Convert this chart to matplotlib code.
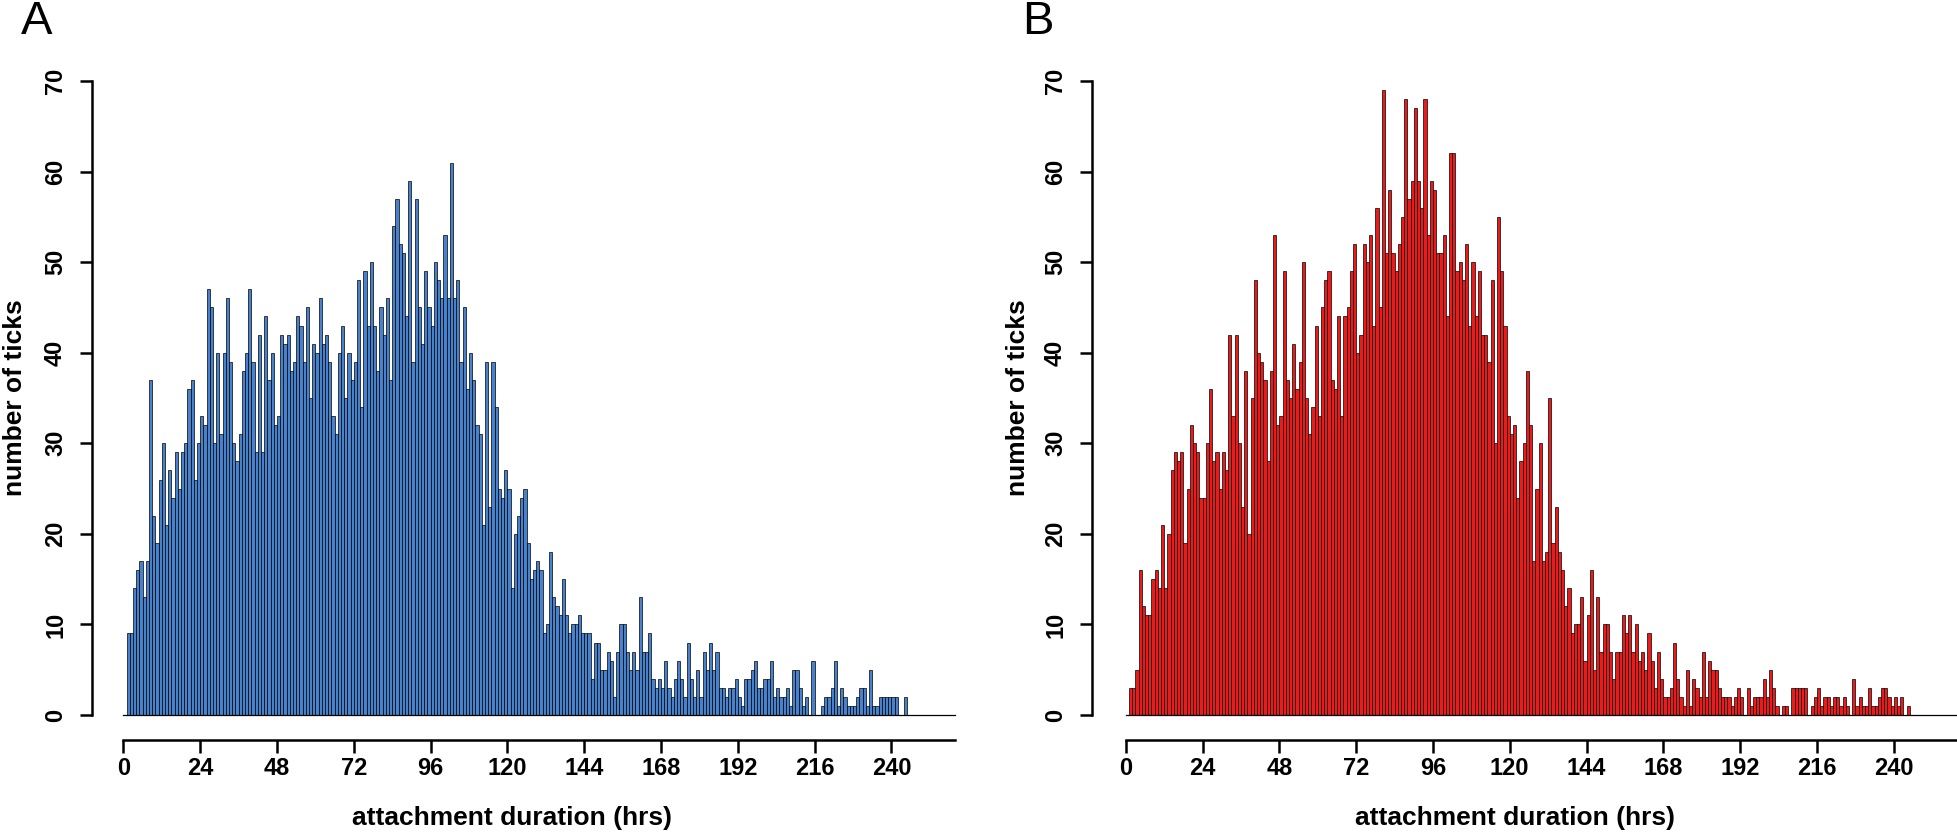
import numpy as np
import matplotlib.pyplot as plt

plt.rcParams['font.family'] = ['Liberation Sans', 'DejaVu Sans']

# hourly bins: bar k spans [k, k+1) hours
hours = np.arange(1, 245)

counts_a = [
    9, 9, 14, 16, 17, 13, 17, 37, 22, 19, 26, 30,
    21, 27, 24, 29, 25, 29, 30, 36, 37, 26, 30, 33,
    32, 47, 45, 30, 40, 31, 40, 46, 39, 30, 28, 31,
    38, 40, 47, 39, 29, 42, 29, 44, 37, 40, 32, 33,
    42, 41, 42, 38, 39, 44, 43, 39, 45, 35, 41, 40,
    46, 41, 42, 39, 33, 31, 40, 43, 35, 40, 37, 39,
    48, 34, 49, 43, 50, 43, 38, 45, 42, 46, 37, 54,
    57, 52, 51, 44, 59, 39, 57, 45, 41, 49, 45, 43,
    50, 48, 46, 53, 46, 61, 46, 48, 39, 45, 36, 40,
    37, 32, 31, 21, 39, 23, 39, 34, 25, 24, 27, 25,
    14, 20, 22, 24, 25, 19, 15, 16, 17, 16, 9, 10,
    18, 13, 12, 11, 15, 11, 9, 10, 10, 11, 9, 9,
    9, 4, 8, 8, 5, 5, 7, 6, 2, 7, 10, 10,
    7, 5, 7, 5, 13, 7, 7, 9, 4, 3, 4, 3,
    6, 3, 2, 4, 6, 4, 2, 8, 4, 2, 5, 2,
    7, 5, 8, 5, 7, 3, 3, 2, 3, 3, 4, 2,
    1, 4, 4, 5, 6, 3, 3, 4, 4, 6, 2, 3,
    2, 2, 3, 1, 5, 5, 3, 1, 2, 0, 6, 0,
    0, 1, 2, 2, 3, 6, 1, 3, 2, 1, 1, 1,
    2, 3, 3, 1, 5, 1, 1, 2, 2, 2, 2, 2,
    2, 0, 0, 2,
]

counts_b = [
    3, 3, 5, 16, 12, 11, 11, 15, 16, 14, 21, 14,
    20, 27, 29, 28, 29, 19, 25, 32, 30, 29, 24, 24,
    30, 36, 28, 29, 25, 29, 27, 42, 33, 42, 30, 23,
    38, 20, 35, 48, 40, 39, 37, 28, 38, 53, 32, 33,
    49, 37, 35, 41, 36, 39, 50, 35, 31, 34, 43, 33,
    45, 48, 49, 37, 36, 44, 33, 44, 45, 49, 52, 40,
    42, 52, 50, 53, 43, 56, 45, 69, 51, 58, 51, 49,
    52, 55, 68, 57, 59, 67, 59, 56, 68, 53, 59, 58,
    51, 51, 53, 44, 62, 62, 49, 50, 48, 52, 43, 50,
    44, 49, 42, 42, 39, 48, 30, 55, 49, 43, 33, 31,
    32, 24, 28, 30, 38, 32, 17, 25, 30, 17, 18, 35,
    19, 23, 18, 16, 12, 14, 9, 10, 10, 13, 6, 11,
    16, 5, 13, 7, 10, 10, 7, 4, 7, 7, 11, 9,
    11, 7, 10, 6, 7, 5, 9, 6, 3, 7, 4, 2,
    2, 3, 8, 4, 2, 1, 5, 1, 4, 3, 2, 7,
    2, 6, 5, 5, 3, 2, 2, 2, 1, 2, 3, 2,
    0, 3, 1, 2, 2, 2, 4, 2, 5, 3, 1, 0,
    1, 1, 0, 3, 3, 3, 3, 3, 0, 1, 2, 3,
    1, 2, 2, 1, 2, 2, 1, 2, 1, 0, 4, 1,
    2, 1, 1, 3, 1, 1, 2, 3, 3, 2, 1, 2,
    1, 2, 0, 1,
]

x_ticks = list(range(0, 241, 24))
y_ticks = list(range(0, 71, 10))

W, H = 1958, 832
fig = plt.figure(figsize=(W / 100, H / 100), dpi=100)

px_hr = 3.2
y0_px, y70_px, axis_px = 715, 81, 740
px_unit = (y0_px - y70_px) / 70.0


def panel(counts, color, yaxis_px, zero_px, letter, letter_x, ylab_x, xlab_x):
    right_hr = 262
    left = yaxis_px / W
    width = (zero_px + right_hr * px_hr - yaxis_px) / W
    bottom = (H - axis_px) / H
    height = (axis_px - y70_px) / H
    ax = fig.add_axes([left, bottom, width, height])
    ax.bar(hours, counts, width=1, align='edge', color=color,
           edgecolor='black', linewidth=0.5)
    ax.plot([0, 260], [0, 0], color='black', lw=0.9)
    ax.set_xlim((yaxis_px - zero_px) / px_hr, right_hr)
    ax.set_ylim(-(axis_px - y0_px) / px_unit, 70)
    for s in ['top', 'right']:
        ax.spines[s].set_visible(False)
    ax.spines['left'].set_bounds(0, 70)
    ax.spines['bottom'].set_bounds(0, 260)
    ax.spines['left'].set_linewidth(1.8)
    ax.spines['bottom'].set_linewidth(1.8)
    ax.set_xticks(x_ticks)
    ax.set_yticks(y_ticks)
    ax.tick_params(axis='both', length=9, width=1.8, labelsize=17)
    ax.tick_params(axis='x', pad=3)
    ax.tick_params(axis='y', pad=9)
    for lab in ax.get_xticklabels():
        lab.set_fontweight('bold')
    for lab in ax.get_yticklabels():
        lab.set_fontweight('bold')
        lab.set_rotation(90)
        lab.set_va('center')
    fig.text(ylab_x / W, 1 - 398 / H, 'number of ticks', rotation=90,
             ha='center', va='center', fontsize=19, fontweight='bold')
    fig.text(xlab_x / W, 1 - 818 / H, 'attachment duration (hrs)',
             ha='center', va='center', fontsize=19, fontweight='bold')
    fig.text(letter_x / W, 1 - 22 / H, letter, ha='center', va='center',
             fontsize=34)
    return ax


panel(counts_a, '#4682CE', 92, 123.4, 'A', 37, 15, 512)
panel(counts_b, '#EE1A1A', 1092, 1125.7, 'B', 1038, 1018, 1515)

fig.savefig('out.png', dpi=100)
